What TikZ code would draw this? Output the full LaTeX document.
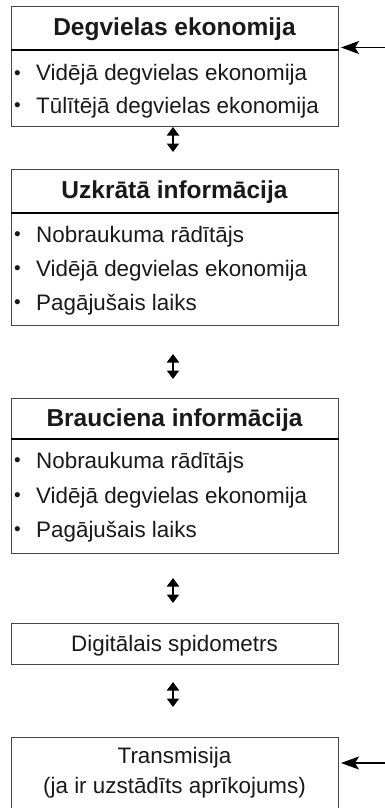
\documentclass[tikz,border=0pt]{standalone}
\usepackage{fontspec}
\setmainfont{Liberation Sans}
\usetikzlibrary{arrows.meta}
\tikzset{
  x=1pt, y=-1pt,
  boxframe/.style={draw=black!72, line width=1.3pt, inner sep=0pt, anchor=north west},
  divider/.style={draw=black, line width=2pt},
  headtxt/.style={anchor=base, inner sep=0pt, font=\fontsize{24.5}{28}\selectfont\bfseries, text=black!90},
  itemtxt/.style={anchor=base west, inner sep=0pt, font=\fontsize{22.4}{26}\selectfont, text=black!90},
  bul/.style={anchor=base west, inner sep=0pt, font=\fontsize{19}{22}\selectfont, text=black!90},
  ctrtxt/.style={anchor=base, inner sep=0pt, font=\fontsize{22.4}{26}\selectfont, text=black!90},
  dblarrow/.style={line width=2.3pt, {Triangle[length=8.5pt,width=12pt]}-{Triangle[length=8.5pt,width=12pt]}},
  inarrow/.style={line width=1.4pt, -{Stealth[length=18pt,width=13pt,inset=4pt]}},
}
\begin{document}
\begin{tikzpicture}
\useasboundingbox (0,0) rectangle (385,808);
% boxes
\node[boxframe, minimum width=326.5pt, minimum height=120pt] (b1) at (11,6) {};
\node[boxframe, minimum width=326.5pt, minimum height=156pt] (b2) at (11,169) {};
\node[boxframe, minimum width=326.5pt, minimum height=155pt] (b3) at (11,397.5) {};
\node[boxframe, minimum width=326.5pt, minimum height=41pt] (b4) at (11,623) {};
\node[boxframe, minimum width=326.5pt, minimum height=100pt] (b5) at (11,737) {};
% header dividers
\coordinate (d1) at (11,50);
\coordinate (d2) at (11,213);
\coordinate (d3) at (11,439);
\draw[divider] (b1.west |- d1) -- (b1.east |- d1);
\draw[divider] (b2.west |- d2) -- (b2.east |- d2);
\draw[divider] (b3.west |- d3) -- (b3.east |- d3);
% texts
\node[headtxt] (h1) at (174.5,36) {Degvielas ekonomija};
\node[bul] (p11) at (14,79.5) {•};
\node[itemtxt] (t11) at (36,81) {Vidējā degvielas ekonomija};
\node[bul] (p12) at (14,111.5) {•};
\node[itemtxt] (t12) at (36,113) {Tūlītējā degvielas ekonomija};
\node[headtxt] (h2) at (174.5,198) {Uzkrātā informācija};
\node[bul] (p21) at (14,240.5) {•};
\node[itemtxt] (t21) at (36,242) {Nobraukuma rādītājs};
\node[bul] (p22) at (14,274.5) {•};
\node[itemtxt] (t22) at (36,276) {Vidējā degvielas ekonomija};
\node[bul] (p23) at (14,308.5) {•};
\node[itemtxt] (t23) at (36,310) {Pagājušais laiks};
\node[headtxt] (h3) at (174.5,426) {Brauciena informācija};
\node[bul] (p31) at (14,466.5) {•};
\node[itemtxt] (t31) at (36,468) {Nobraukuma rādītājs};
\node[bul] (p32) at (14,501.5) {•};
\node[itemtxt] (t32) at (36,503) {Vidējā degvielas ekonomija};
\node[bul] (p33) at (14,535.5) {•};
\node[itemtxt] (t33) at (36,537) {Pagājušais laiks};
\node[ctrtxt] (t4) at (174.5,651) {Digitālais spidometrs};
\node[ctrtxt] (t51) at (174.5,763) {Transmisija};
\node[ctrtxt] (t52) at (174.5,793) {(ja ir uzstādīts aprīkojums)};
% double arrows
\coordinate (a1s) at (173,127); \coordinate (a1e) at (173,152);
\coordinate (a2s) at (173,354); \coordinate (a2e) at (173,379);
\coordinate (a3s) at (173,578); \coordinate (a3e) at (173,603);
\coordinate (a4s) at (173,682); \coordinate (a4e) at (173,707);
\draw[dblarrow] (a1s) -- (a1e);
\draw[dblarrow] (a2s) -- (a2e);
\draw[dblarrow] (a3s) -- (a3e);
\draw[dblarrow] (a4s) -- (a4e);
% incoming arrows
\coordinate (i1) at (385,47.5); \coordinate (i1t) at (341,47.5);
\coordinate (i2) at (385,763); \coordinate (i2t) at (341,763);
\draw[inarrow] (i1) -- (i1t);
\draw[inarrow] (i2) -- (i2t);
\end{tikzpicture}
\end{document}
